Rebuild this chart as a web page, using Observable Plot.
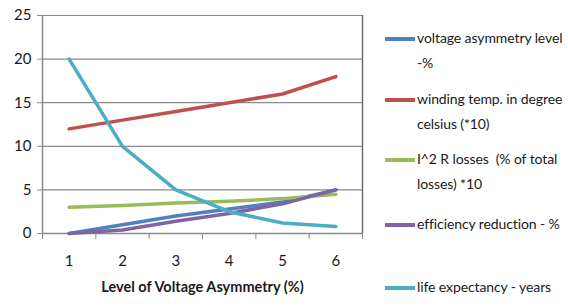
<!DOCTYPE html>
<html>
<head>
<meta charset="utf-8">
<script src="https://cdn.jsdelivr.net/npm/d3@7"></script>
<script src="https://cdn.jsdelivr.net/npm/@observablehq/plot@0.6"></script>
<style>
  html, body { margin: 0; padding: 0; background: #fff; }
  #wrap { position: relative; width: 568px; height: 306px; font-family: Lato, sans-serif; }
  #legend { position: absolute; left: 385px; top: 0; width: 183px; }
  .item { position: absolute; left: 0; display: flex; align-items: flex-start; }
  .sw { width: 30px; height: 3.5px; margin-top: 9px; flex: none; }
  .lab { margin-left: 2px; font-size: 14px; letter-spacing: -0.1px; line-height: 25px; margin-top: -3px; color: #1a1a1a; white-space: nowrap; transform-origin: left center; }
</style>
</head>
<body>
<div id="wrap"></div>
<script>
const levels = [1, 2, 3, 4, 5, 6];
const seriesNames = [
  "voltage asymmetry level -%",
  "winding temp. in degree celsius (*10)",
  "I^2 R losses  (% of total losses) *10",
  "efficiency reduction - %",
  "life expectancy - years"
];
const legendLines = [
  ["voltage asymmetry level", "-%"],
  ["winding temp. in degree", "celsius (*10)"],
  ["I^2 R losses\u00a0 (% of total", "losses) *10"],
  ["efficiency reduction - %"],
  ["life expectancy - years"]
];
const voltageAsym = [0, 1, 2, 2.8, 3.6, 5];
const windingTemp = [12, 13, 14, 15, 16, 18];
const i2rLosses = [3, 3.2, 3.5, 3.7, 4, 4.5];
const efficiencyRed = [0, 0.4, 1.4, 2.3, 3.4, 5];
const lifeExpect = [20, 10, 5, 2.5, 1.2, 0.8];
const colors = ["#4F81BD", "#C0504D", "#9BBB59", "#8064A2", "#4BACC6"];
const yTicks = [0, 5, 10, 15, 20, 25];
const xTitle = "Level of Voltage Asymmetry (%)";
const legendTops = [28, 89, 149, 214, 277];

const allSeries = [voltageAsym, windingTemp, i2rLosses, efficiencyRed, lifeExpect];
const data = [];
allSeries.forEach((vals, si) => vals.forEach((v, i) => data.push({series: seriesNames[si], x: levels[i], y: v})));
const boundaries = d3.range(levels[0] - 0.5, levels[levels.length - 1] + 1, 1);

const font = 'Lato, sans-serif';
const grey = "#8a8a8a";

const chart = Plot.plot({
  width: 568,
  height: 306,
  marginLeft: 42,
  marginRight: 206,
  marginTop: 15,
  marginBottom: 73,
  style: { fontFamily: font, fontSize: "15px", color: "#1a1a1a", background: "#fff" },
  x: { domain: [boundaries[0], boundaries[boundaries.length - 1]] },
  y: { domain: [0, 25] },
  color: { domain: seriesNames, range: colors },
  marks: [
    Plot.ruleY(yTicks.slice(1), { stroke: grey, strokeWidth: 1.2, strokeOpacity: 1 }),
    Plot.ruleX([boundaries[boundaries.length - 1]], { stroke: "#6e6e6e", strokeWidth: 1.5 }),
    Plot.ruleX([boundaries[0]], { stroke: grey, strokeWidth: 1.5 }),
    Plot.ruleY([0], { stroke: grey, strokeWidth: 1.5 }),
    Plot.axisY({ ticks: yTicks, tickSize: 5, tickPadding: 6, stroke: grey, label: null, fontSize: 15, tickFormat: "d" }),
    Plot.axisX({ ticks: boundaries, tickSize: 6, tickFormat: () => "", stroke: grey, label: null }),
    Plot.axisX({ ticks: levels, tickSize: 0, tickPadding: 22, label: null, fontSize: 15, tickFormat: "d" }),
    Plot.text([xTitle], { frameAnchor: "bottom", dy: 58, fontWeight: "bold", fontSize: 14.5, fill: "#1a1a1a" }),
    Plot.line(data, { x: "x", y: "y", z: "series", stroke: "series", strokeWidth: 3.5 })
  ]
});
const wrap = document.getElementById("wrap");
wrap.appendChild(chart);

const legend = document.createElement("div");
legend.id = "legend";
legendLines.forEach((lines, i) => {
  const item = document.createElement("div");
  item.className = "item";
  item.style.top = legendTops[i] + "px";
  const sw = document.createElement("div");
  sw.className = "sw";
  sw.style.background = colors[i];
  const lab = document.createElement("div");
  lab.className = "lab";
  lab.innerHTML = lines.map(s => s.replace(/&/g, "&amp;").replace(/</g, "&lt;")).join("<br>");
  item.appendChild(sw);
  item.appendChild(lab);
  legend.appendChild(item);
});
wrap.appendChild(legend);
</script>
</body>
</html>
